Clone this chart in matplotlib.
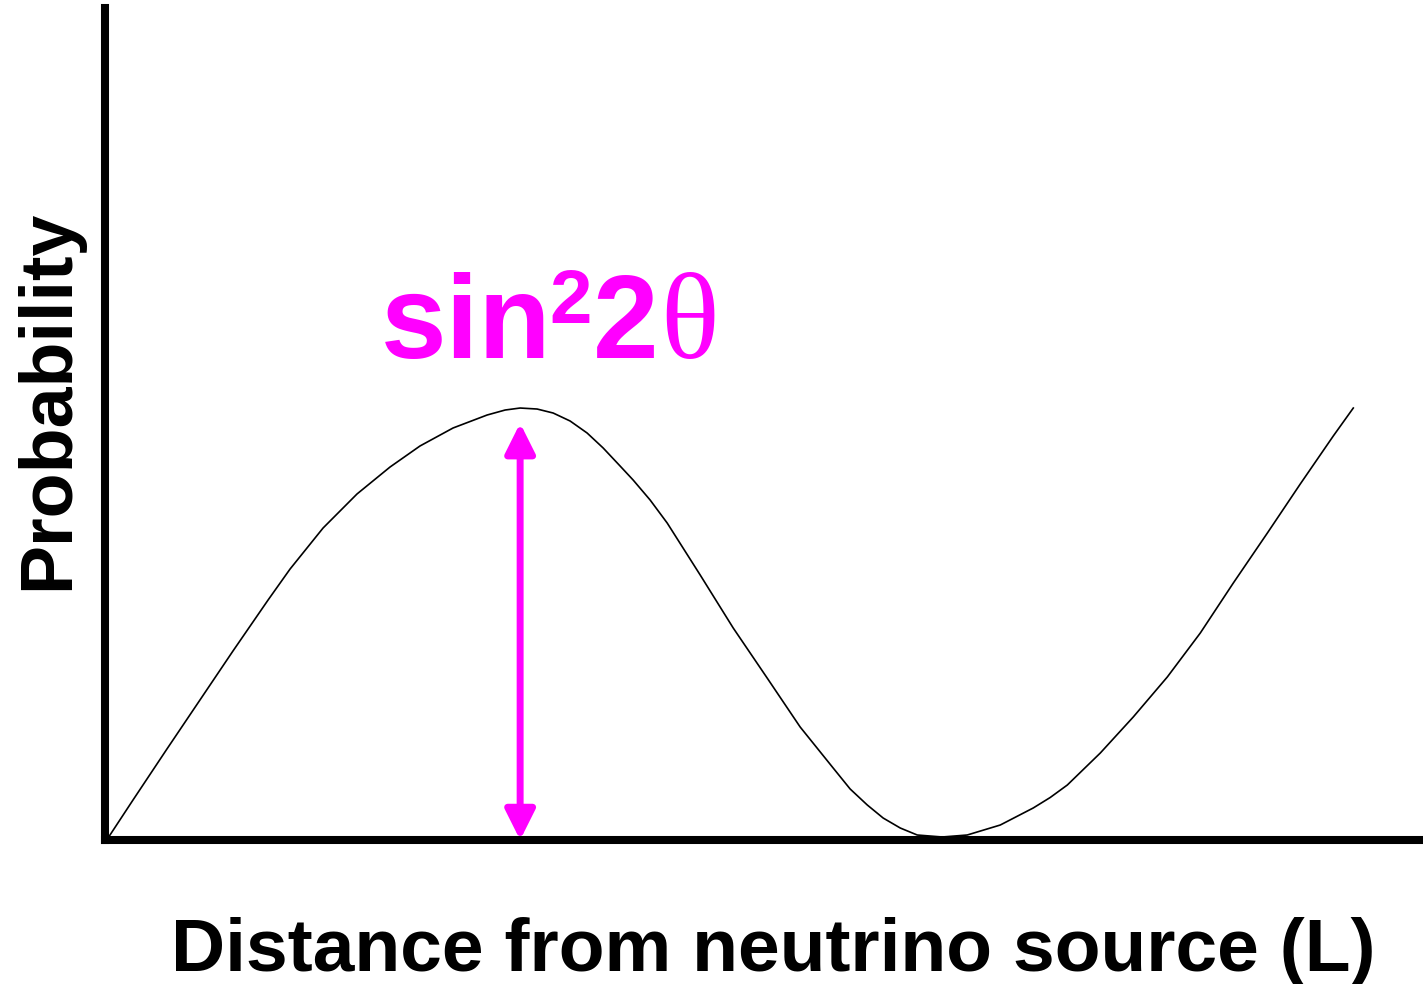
import matplotlib
matplotlib.use('Agg')
import matplotlib.pyplot as plt

plt.rcParams['font.family'] = ['Liberation Sans', 'DejaVu Sans']

# distance (arbitrary units) and oscillation probability (%)
distance = [0.23, 2.13, 4.71, 7.22, 9.73, 12.40, 14.07, 16.58, 19.16, 21.67,
            23.95, 26.46, 29.05, 30.42, 31.56, 32.85, 34.07, 35.36, 36.65, 37.87,
            39.16, 40.15, 41.44, 42.74, 45.25, 47.76, 50.34, 52.85, 55.36, 56.65,
            57.95, 59.16, 60.46, 61.75, 63.65, 65.55, 68.06, 70.57, 71.86, 73.16,
            75.67, 78.17, 80.76, 83.27, 85.78, 88.37, 90.87, 93.38, 94.90]
probability = [0.24, 4.81, 10.94, 16.83, 22.72, 28.85, 32.57, 37.50, 41.59, 44.83,
               47.36, 49.52, 51.08, 51.68, 51.92, 51.80, 51.32, 50.36, 48.92, 47.12,
               44.95, 43.27, 40.87, 38.10, 31.85, 25.48, 19.47, 13.58, 8.65, 6.13,
               4.21, 2.64, 1.44, 0.60, 0.36, 0.60, 1.80, 3.85, 5.11, 6.61,
               10.46, 14.78, 19.59, 24.88, 30.89, 36.90, 42.79, 48.56, 51.92]

amp_x = 31.56
amp_top = 50.1

fig = plt.figure(figsize=(14.23, 9.84), dpi=100)
ax = fig.add_axes([105 / 1423, 144 / 984, 1318 / 1423, 832 / 984])
ax.set_xlim(0, 100.2)
ax.set_ylim(0, 100)

ax.plot(distance, probability, color='black', lw=1.2, solid_joinstyle='round')

# amplitude arrow
ax.annotate('', xy=(amp_x, amp_top), xytext=(amp_x, 0),
            arrowprops=dict(arrowstyle='<|-|>,head_length=0.5,head_width=0.25',
                            color='#FF00FF', lw=5, mutation_scale=36,
                            shrinkA=0, shrinkB=0))

for side in ['top', 'right']:
    ax.spines[side].set_visible(False)
for side in ['left', 'bottom']:
    ax.spines[side].set_linewidth(5.8)
    ax.spines[side].set_color('black')
ax.set_xticks([])
ax.set_yticks([])

# sin^2 2theta label, built piece by piece
magenta = '#FF00FF'
base = 1 - 358 / 984
fig.text(381 / 1423, base, 'sin', color=magenta, fontsize=85,
         fontweight='bold', va='baseline')
fig.text(549 / 1423, 1 - 323 / 984, '2', color=magenta, fontsize=55,
         fontweight='bold', va='baseline')
fig.text(593 / 1423, base, '2', color=magenta, fontsize=85,
         fontweight='bold', va='baseline')
fig.text(660 / 1423, base, 'θ', color=magenta, fontsize=88,
         family=['Liberation Serif', 'DejaVu Serif'], va='baseline')

fig.text(773 / 1423, 1 - 971 / 984, 'Distance from neutrino source (L)',
         fontsize=54, fontweight='bold', ha='center', va='baseline')
fig.text(68 / 1423, 1 - 400 / 984, 'Probability', rotation=90,
         fontsize=53, fontweight='bold', ha='center', va='baseline',
         rotation_mode='anchor')

fig.savefig('out.png', dpi=100, facecolor='white')
